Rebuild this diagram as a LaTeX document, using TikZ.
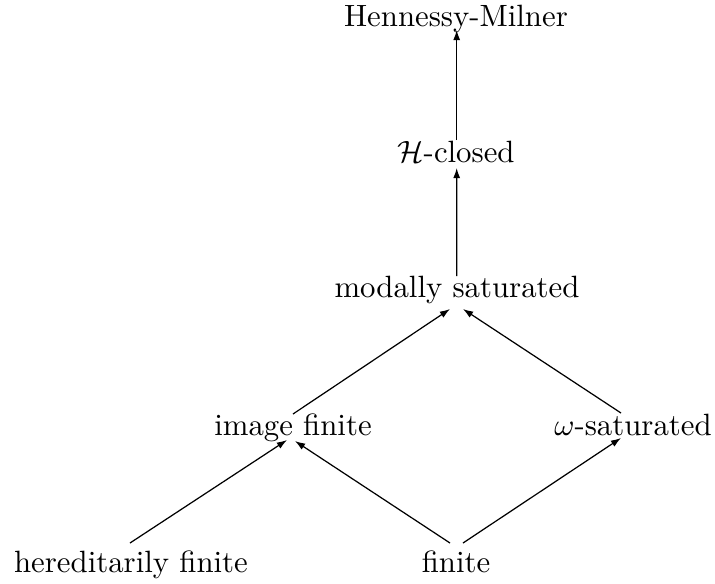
\documentclass[tikz,border=0pt]{standalone}
\usetikzlibrary{arrows.meta}
\begin{document}
\begin{tikzpicture}[x=0.3247pt,y=-0.3247pt,
  lbl/.style={anchor=base,inner sep=0pt},
  arr/.style={-{Latex[length=3.3pt,width=2.3pt]},line width=0.4pt}]
\useasboundingbox (0,0) rectangle (715,583);
\node[lbl] (hm) at (456,26) {Hennessy-Milner};
\node[lbl] (hc) at (456,162) {$\mathcal{H}$-closed};
\node[lbl] (ms) at (457,297) {modally saturated};
\node[lbl] (if) at (293,435) {image finite};
\node[lbl] (ws) at (633,435) {$\omega$-saturated};
\node[lbl] (hf) at (131,572) {hereditarily finite};
\node[lbl] (fi) at (456,572) {finite};
\draw[arr] ([shift={(0.7,-22)}]hc.base) -- ([shift={(0.7,4)}]hm.base);
\draw[arr] ([shift={(-0.3,-21)}]ms.base) -- ([shift={(0.7,6)}]hc.base);
\draw[arr] ([shift={(0,-21)}]if.base) -- ([shift={(-7,12)}]ms.base);
\draw[arr] ([shift={(-12,-22)}]ws.base) -- ([shift={(6,12)}]ms.base);
\draw[arr] ([shift={(-1,-29)}]hf.base) -- ([shift={(-6,5)}]if.base);
\draw[arr] ([shift={(-6,-29)}]fi.base) -- ([shift={(2,6)}]if.base);
\draw[arr] ([shift={(7,-29)}]fi.base) -- ([shift={(-12,3)}]ws.base);
\end{tikzpicture}
\end{document}
